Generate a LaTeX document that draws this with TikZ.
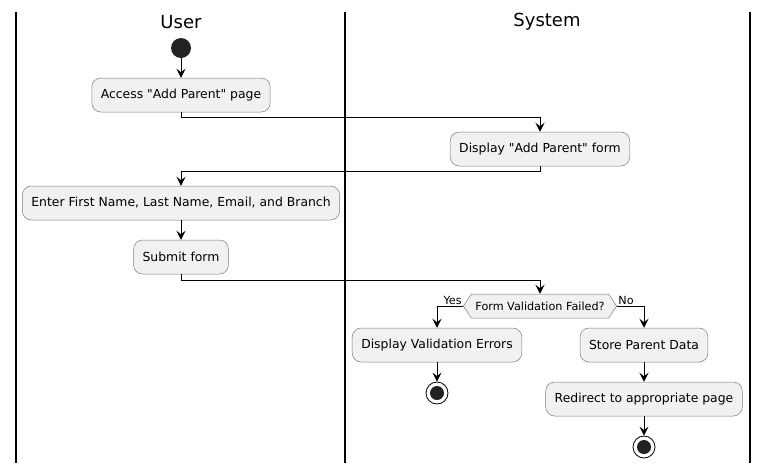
\documentclass[tikz,border=0pt]{standalone}
\usepackage{fontspec}
\setmainfont{DejaVu Sans}
\usetikzlibrary{arrows.meta,shapes.symbols}
\definecolor{actfill}{HTML}{F1F1F1}
\definecolor{actline}{HTML}{7A7A7A}
\definecolor{dot}{HTML}{222222}

\begin{document}
\begin{tikzpicture}
  [x=1pt, y=-1pt, line width=0.9pt,
   >={Stealth[length=9pt,width=9pt,inset=3.5pt]},
   act/.style={draw=actline, line width=0.5pt, fill=actfill, rounded corners=9pt,
     minimum height=34pt, inner xsep=9pt, font=\fontsize{12.4}{14}\selectfont},
   check/.style={draw=actline, line width=0.5pt, fill=actfill, shape=signal,
     signal to=west and east, signal pointer angle=112, minimum height=24pt,
     inner xsep=4pt, inner ysep=2pt, font=\fontsize{11.2}{13}\selectfont},
   lbl/.style={font=\fontsize{11.2}{13}\selectfont, inner sep=1pt},
   title/.style={font=\fontsize{18}{20}\selectfont},
   begin/.style={circle, fill=dot, minimum size=20pt, inner sep=0pt},
   finish/.style={circle, draw=black, line width=0.8pt, fill=white, minimum size=22pt, inner sep=0pt,
     path picture={\fill[dot] (path picture bounding box.center) circle (7pt);}}]
	\useasboundingbox (0,0) rectangle (769,475);

	% swimlanes
	\draw[line width=1.5pt] (16,12) -- (16,463)
		(345,12) -- (345,463)
		(750,12) -- (750,463);
	\node [name=user, title] at (181,22) {User};
	\node [name=system, title] at (547,22) {System};

	% user lane
	\node [name=start, begin] at (181,48) {};
	\node [name=access, act] at (181,95) {Access \textquotedbl Add Parent\textquotedbl{} page};
	\node [name=enter, act] at (181,203) {Enter First Name, Last Name, Email, and Branch};
	\node [name=submit, act] at (181,257) {Submit form};

	% system lane
	\node [name=display, act] at (540,149) {Display \textquotedbl Add Parent\textquotedbl{} form};
	\node [name=valid, check] at (540,306) {Form Validation Failed?};
	\node [name=errors, act] at (437,345) {Display Validation Errors};
	\node [name=stopa, finish] at (437,393) {};
	\node [name=store, act] at (644,345) {Store Parent Data};
	\node [name=redirect, act] at (644,399) {Redirect to appropriate page};
	\node [name=stopb, finish] at (644,447) {};

	\path [->] (start) edge (access)
		(enter) edge (submit)
		(errors) edge (stopa)
		(store) edge (redirect)
		(redirect) edge (stopb);

	\draw [->] (access.south) -- ++(0,5) -| (display.north);
	\draw [->] (display.south) -- ++(0,5) -| (enter.north);
	\draw [->] (submit.south) -- ++(0,6) -| (valid.north);
	\draw [->] (valid.west) node [lbl, anchor=south east] {Yes} -| (errors.north);
	\draw [->] (valid.east) node [lbl, anchor=south west] {No} -| (store.north);
\end{tikzpicture}
\end{document}
